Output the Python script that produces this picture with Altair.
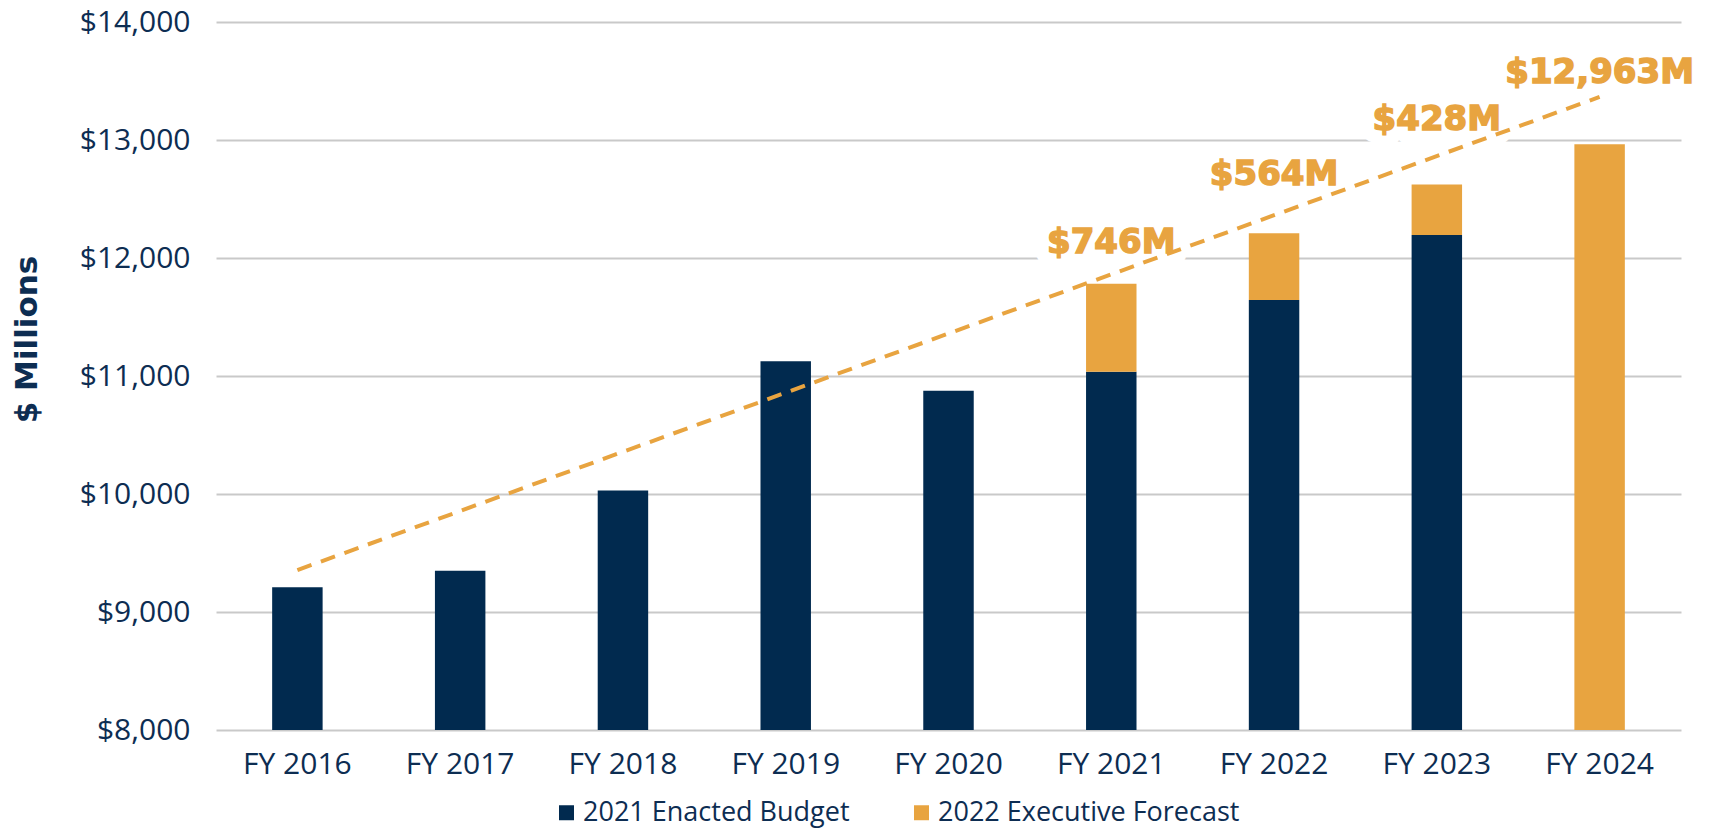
import altair as alt
import pandas as pd

years = ["FY 2016", "FY 2017", "FY 2018", "FY 2019", "FY 2020",
         "FY 2021", "FY 2022", "FY 2023", "FY 2024"]
enacted = [9210, 9350, 10030, 11125, 10875, 11035, 11645, 12195, None]
forecast_increase = [None, None, None, None, None, 746, 564, 428, None]
forecast_only = [None, None, None, None, None, None, None, None, 12963]

label_years = ["FY 2021", "FY 2022", "FY 2023", "FY 2024"]
label_text = ["$746M", "$564M", "$428M", "$12,963M"]
label_y = [12130, 12700, 13170, 13570]

trend_years = ["FY 2016", "FY 2024"]
trend_values = [9355, 13365]

y_ticks = [8000, 9000, 10000, 11000, 12000, 13000, 14000]
series_names = ["2021 Enacted Budget", "2022 Executive Forecast"]

NAVY = "#012A4F"
ORANGE = "#E8A440"
TEXT = "#0D2D52"

rows = []
for yr, e, inc, fo in zip(years, enacted, forecast_increase, forecast_only):
    if e is not None:
        rows.append({"year": yr, "series": series_names[0], "y0": 0, "y1": e})
        if inc is not None:
            rows.append({"year": yr, "series": series_names[1], "y0": e, "y1": e + inc})
    if fo is not None:
        rows.append({"year": yr, "series": series_names[1], "y0": 0, "y1": fo})
bars_df = pd.DataFrame(rows)
labels_df = pd.DataFrame({"year": label_years, "text": label_text, "y": label_y})
trend_df = pd.DataFrame({"year": trend_years, "value": trend_values})

x_enc = alt.X("year:N", sort=years,
              scale=alt.Scale(domain=years, paddingInner=0.69, paddingOuter=0.345),
              axis=alt.Axis(title=None, labelAngle=0, domain=False, ticks=False,
                            labelFont="Open Sans", labelFontSize=30, labelColor=TEXT,
                            labelPadding=19))
y_scale = alt.Scale(domain=[8000, 14000], nice=False, zero=False)

bars = alt.Chart(bars_df).mark_bar(clip=True).encode(
    x=x_enc,
    y=alt.Y("y1:Q", scale=y_scale,
            axis=alt.Axis(values=y_ticks, format="$,.0f", title="$ Millions",
                          grid=True, gridColor="#C9C9C9", gridWidth=2,
                          domain=False, ticks=False,
                          labelFont="Open Sans", labelFontSize=30, labelColor=TEXT,
                          labelPadding=26,
                          titleFont="DejaVu Sans", titleFontWeight="bold",
                          titleFontSize=31, titleColor=TEXT, titleAngle=270,
                          titleBaseline="middle", titleX=-189, titleY=317)),
    y2="y0:Q",
    color=alt.Color("series:N",
                    scale=alt.Scale(domain=series_names, range=[NAVY, ORANGE]),
                    legend=alt.Legend(title=None, orient="none", direction="horizontal",
                                      legendX=337, legendY=777,
                                      symbolType="square", symbolSize=225,
                                      symbolStrokeWidth=0,
                                      labelFont="Open Sans", labelFontSize=27,
                                      labelColor=TEXT, columnPadding=58,
                                      labelOffset=3, labelLimit=500)),
    order=alt.Order("y0:Q"),
)

halo = alt.Chart(labels_df).mark_text(
    font="DejaVu Sans", fontWeight="bold", fontSize=34, color="white",
    stroke="white", strokeWidth=28, strokeJoin="round", baseline="middle", align="center",
).encode(x=alt.X("year:N", sort=years), y=alt.Y("y:Q", scale=y_scale), text="text:N")

trend = alt.Chart(trend_df).mark_line(
    color=ORANGE, strokeWidth=4, strokeDash=[15, 10],
).encode(x=alt.X("year:N", sort=years), y=alt.Y("value:Q", scale=y_scale))

labels = alt.Chart(labels_df).mark_text(
    font="DejaVu Sans", fontWeight="bold", fontSize=34, color=ORANGE,
    stroke=ORANGE, strokeWidth=1.5, baseline="middle", align="center",
).encode(x=alt.X("year:N", sort=years), y=alt.Y("y:Q", scale=y_scale), text="text:N")

chart = alt.layer(bars, halo, trend, labels).properties(
    width=1465, height=708,
    padding={"left": 208, "top": 14, "right": 20, "bottom": 99},
    autosize=alt.AutoSizeParams(type="none"),
    background="white",
).configure_view(stroke=None)

chart.save("out.html", embed_options={"renderer": "svg", "actions": False})
